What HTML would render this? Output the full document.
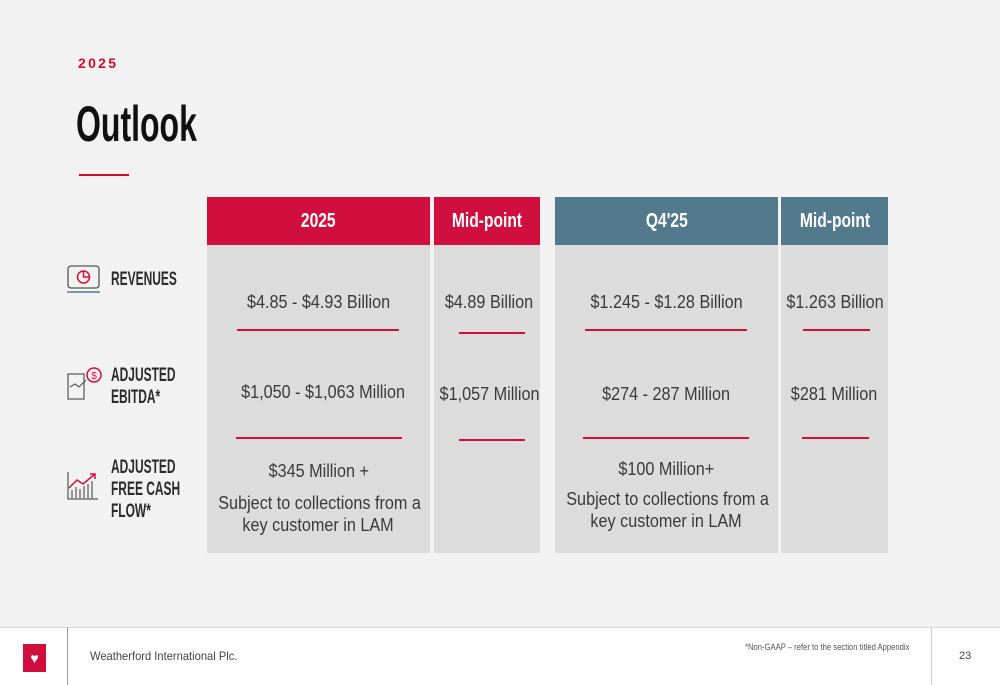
<!DOCTYPE html>
<html><head><meta charset="utf-8"><style>
*{margin:0;padding:0;box-sizing:border-box}
body{width:1000px;height:685px;background:#f2f2f2;position:relative;overflow:hidden;font-family:"Liberation Sans",sans-serif;color:#333}
.a{position:absolute}
.s{display:inline-block;white-space:nowrap;transform:scaleX(0.9);transform-origin:center}
.hd{position:absolute;top:197px;height:48px;color:#fff;font-weight:bold;font-size:20px;display:flex;align-items:center;justify-content:center}
.hd .s{transform:scaleX(0.78)}
.col{position:absolute;top:245px;height:308px;background:#dcdcdc}
.t{position:absolute;font-size:18px;color:#3a3a3a;text-align:center;line-height:22px}
.rl{position:absolute;height:2px;background:#d10f3f}
.lab{position:absolute;left:111px;font-weight:bold;font-size:19px;line-height:22px;color:#2b2b2b;transform:scaleX(0.63);transform-origin:left;white-space:nowrap}
</style></head><body>
<div class="a" style="left:78px;top:55px;color:#c8102e;font-weight:bold;font-size:14px;letter-spacing:2.3px">2025</div>
<div class="a" style="left:76px;top:95px;font-size:50px;font-weight:bold;color:#111;transform:scaleX(0.64);transform-origin:left">Outlook</div>
<div class="a" style="left:79px;top:174px;width:50px;height:2px;background:#c8102e"></div>

<div class="hd" style="left:207px;width:223px;background:#d10f3f"><span class="s">2025</span></div>
<div class="hd" style="left:434px;width:106px;background:#d10f3f"><span class="s">Mid-point</span></div>
<div class="hd" style="left:555px;width:223px;background:#537a8c"><span class="s">Q4'25</span></div>
<div class="hd" style="left:781px;width:107px;background:#537a8c"><span class="s">Mid-point</span></div>

<div class="col" style="left:207px;width:223px"></div>
<div class="col" style="left:434px;width:106px"></div>
<div class="col" style="left:555px;width:223px"></div>
<div class="col" style="left:781px;width:107px"></div>

<div class="t" style="left:207px;width:223px;top:291px"><span class="s">$4.85 - $4.93 Billion</span></div>
<div class="t" style="left:434px;width:110px;top:291px"><span class="s">$4.89 Billion</span></div>
<div class="t" style="left:555px;width:223px;top:291px"><span class="s">$1.245 - $1.28 Billion</span></div>
<div class="t" style="left:781px;width:107px;top:291px"><span class="s">$1.263 Billion</span></div>
<div class="rl" style="left:237px;width:162px;top:329px"></div>
<div class="rl" style="left:459px;width:66px;top:332px"></div>
<div class="rl" style="left:585px;width:162px;top:329px"></div>
<div class="rl" style="left:803px;width:67px;top:329px"></div>

<div class="t" style="left:207px;width:232px;top:381px"><span class="s">$1,050 - $1,063 Million</span></div>
<div class="t" style="left:434px;width:106px;top:383px"><span class="s">$1,057 Million</span></div>
<div class="t" style="left:555px;width:223px;top:383px"><span class="s">$274 - 287 Million</span></div>
<div class="t" style="left:781px;width:107px;top:383px"><span class="s">$281 Million</span></div>
<div class="rl" style="left:236px;width:166px;top:437px"></div>
<div class="rl" style="left:459px;width:66px;top:439px"></div>
<div class="rl" style="left:583px;width:166px;top:437px"></div>
<div class="rl" style="left:802px;width:67px;top:437px"></div>

<div class="t" style="left:207px;width:223px;top:460px"><span class="s">$345 Million +</span></div>
<div class="t" style="left:207px;width:223px;top:492px"><span class="s">Subject to collections from a</span><br><span class="s">key customer in LAM</span></div>
<div class="t" style="left:555px;width:223px;top:458px"><span class="s">$100 Million+</span></div>
<div class="t" style="left:555px;width:223px;top:488px"><span class="s">Subject to collections from a</span><br><span class="s">key customer in LAM</span></div>

<div class="lab" style="top:269px">REVENUES</div>
<div class="lab" style="top:365px">ADJUSTED<br>EBITDA*</div>
<div class="lab" style="top:457px">ADJUSTED<br>FREE CASH<br>FLOW*</div>

<svg class="a" style="left:66px;top:264px" width="36" height="32"><rect x="2" y="2" width="31" height="22" rx="3" fill="none" stroke="#555" stroke-width="1.3"/><line x1="1" y1="28" x2="34" y2="28" stroke="#537a8c" stroke-width="1.5"/><circle cx="17.5" cy="13" r="6" fill="none" stroke="#d10f3f" stroke-width="1.5"/><path d="M17.5 7V13H23" fill="none" stroke="#d10f3f" stroke-width="1.5"/></svg>
<svg class="a" style="left:66px;top:365px" width="38" height="36"><rect x="2" y="9" width="16" height="25" fill="none" stroke="#555" stroke-width="1.2"/><polyline points="4,22 9,19 13,22 20,15" fill="none" stroke="#555" stroke-width="1.2"/><circle cx="28" cy="10" r="7" fill="none" stroke="#d10f3f" stroke-width="1.5"/><text x="28" y="14" font-size="10" text-anchor="middle" fill="#d10f3f" font-family="Liberation Sans">$</text></svg>
<svg class="a" style="left:66px;top:470px" width="34" height="32"><polyline points="2,2 2,29 32,29" fill="none" stroke="#555" stroke-width="1.2"/><g stroke="#555" stroke-width="1.2"><line x1="6" y1="28" x2="6" y2="20"/><line x1="10" y1="28" x2="10" y2="17"/><line x1="14" y1="28" x2="14" y2="19"/><line x1="18" y1="28" x2="18" y2="16"/><line x1="22" y1="28" x2="22" y2="14"/><line x1="26" y1="28" x2="26" y2="11"/></g><polyline points="3,18 11,10 17,14 29,4" fill="none" stroke="#d10f3f" stroke-width="1.5"/><polyline points="24,4 29,4 29,9" fill="none" stroke="#d10f3f" stroke-width="1.5"/></svg>

<div class="a" style="left:0;top:627px;width:1000px;height:58px;background:#fff;border-top:1px solid #d8d8d8"></div>
<div class="a" style="left:67px;top:627px;width:1px;height:58px;background:#999"></div>
<div class="a" style="left:931px;top:627px;width:1px;height:58px;background:#ccc"></div>
<div class="a" style="left:23px;top:644px;width:23px;height:28px;background:#d10f3f;color:#fff;font-size:14px;text-align:center;line-height:28px">♥</div>
<div class="a" style="left:90px;top:649px;font-size:12px;color:#444;transform:scaleX(0.93);transform-origin:left;white-space:nowrap">Weatherford International Plc.</div>
<div class="a" style="left:745px;top:642px;font-size:9px;color:#555;transform:scaleX(0.85);transform-origin:left;white-space:nowrap">*Non-GAAP – refer to the section titled Appendix</div>
<div class="a" style="left:959px;top:650px;font-size:11px;color:#444">23</div>
</body></html>
